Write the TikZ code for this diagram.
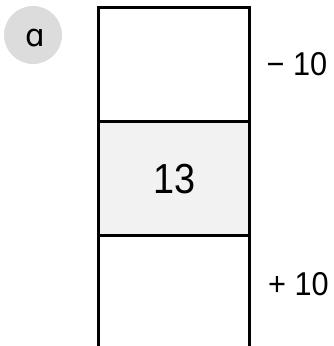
\documentclass[tikz,border=0pt]{standalone}
\usepackage{fontspec}
\setmainfont{Liberation Sans}
\newfontfamily\letterfont{DejaVu Sans}
\definecolor{circlegray}{HTML}{DCDCDC}
\definecolor{cellgray}{HTML}{F2F2F2}
\begin{document}
\begin{tikzpicture}[x=1pt,y=1pt,
  cellbox/.style={minimum width=151pt,minimum height=114pt,inner sep=0pt,outer sep=0pt,line width=3pt},
  numlabel/.style={inner sep=0pt,anchor=base west,font=\fontsize{33}{33}\selectfont}]
\useasboundingbox (0,0) rectangle (333,346);
\node[circle,fill=circlegray,minimum size=58pt,inner sep=0pt] (badge) at (33,311) {};
\node[inner sep=0pt,anchor=base,font=\letterfont\fontsize{31}{31}\selectfont] (lettera) at (35,299) {ɑ};
\node[cellbox,draw] (topcell) at (173.5,281) {};
\node[cellbox,draw,fill=cellgray] (midcell) at (173.5,167) {};
\node[inner sep=0pt,anchor=base,font=\fontsize{42}{42}\selectfont] (midlabel) at (175,152) {\scalebox{0.9}[1]{13}};
\node[cellbox] (botcell) at (173.5,53) {};
\draw[line width=3pt] (botcell.north west) -- (botcell.south west);
\draw[line width=3pt] (botcell.north east) -- (botcell.south east);
\node[numlabel] (minuslabel) at (266.5,270) {\scalebox{0.93}[1]{− 10}};
\node[numlabel] (pluslabel) at (268,50) {\scalebox{0.93}[1]{+ 10}};
\end{tikzpicture}
\end{document}
